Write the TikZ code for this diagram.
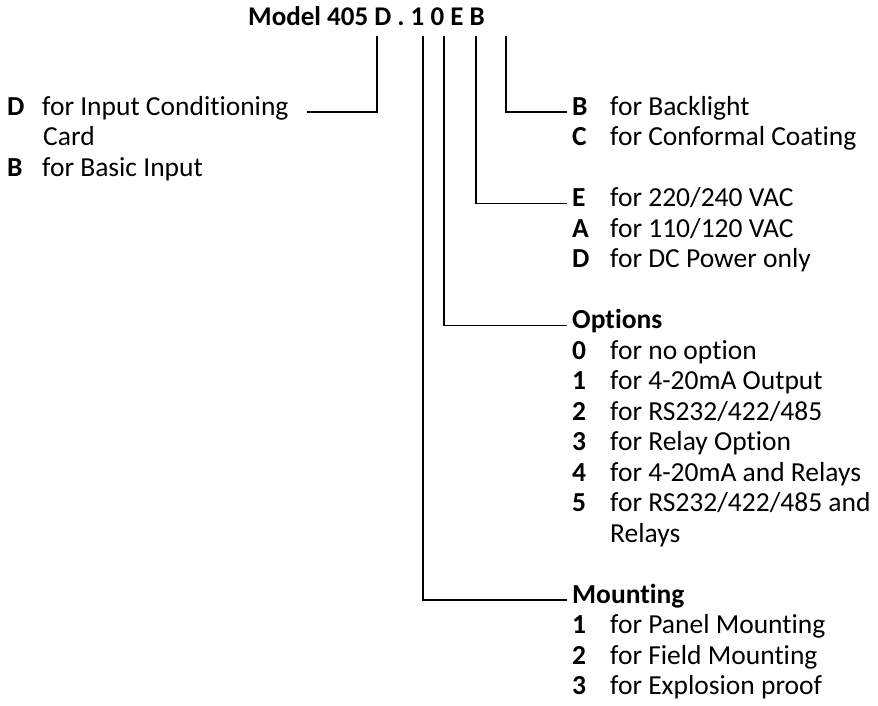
\documentclass[tikz,border=0pt]{standalone}
\usepackage{fontspec}
\setmainfont{Carlito}[Ligatures=NoCommon]
\newcommand{\bodysize}{\fontsize{27.5}{30.5}\selectfont}
\newcommand{\rowsep}{30.5}
\tikzset{
  title/.style={anchor=base west, inner sep=0pt, font=\fontsize{27}{32}\selectfont\bfseries},
  code/.style ={anchor=base west, inner sep=0pt, font=\bodysize\bfseries},
  desc/.style ={anchor=base west, inner sep=0pt, font=\bodysize},
  link/.style ={line width=1.6pt, line cap=rect},
}

\begin{document}
\begin{tikzpicture}[x=1pt, y=-1pt]
\useasboundingbox (0,0) rectangle (878,705);
\node[title] (model) at (248,25) {Model 405 D . 1 0 E B};
% tops of the code lines
\coordinate (tD) at (377,37);
\coordinate (tM) at (423,37);
\coordinate (tO) at (444,37);
\coordinate (tP) at (476,37);
\coordinate (tL) at (506,37);
% input card
\node[code] (cD) at (7,115) {D};
\node[desc] (dD) at (42,115) {for Input Conditioning};
\node[desc] (dD2) at (43,{115+\rowsep}) {Card};
\node[code] (cB) at (7,{115+2*\rowsep}) {B};
\node[desc] (dB) at (42,{115+2*\rowsep}) {for Basic Input};
\coordinate (eD) at (308,112);
% backlight
\node[code] (lB) at (572,115) {B};
\node[desc] (lBd) at (610,115) {for Backlight};
\node[code] (lC) at (572,{115+\rowsep}) {C};
\node[desc] (lCd) at (610,{115+\rowsep}) {for Conformal Coating};
\coordinate (eL) at (566,112);
% power
\node[code] (pE) at (572,{115+3*\rowsep}) {E};
\node[desc] (pEd) at (610,{115+3*\rowsep}) {for 220/240 VAC};
\node[code] (pA) at (572,{115+4*\rowsep}) {A};
\node[desc] (pAd) at (610,{115+4*\rowsep}) {for 110/120 VAC};
\node[code] (pD) at (572,{115+5*\rowsep}) {D};
\node[desc] (pDd) at (610,{115+5*\rowsep}) {for DC Power only};
\coordinate (eP) at (566,{112+3*\rowsep});
% options
\node[code] (oH) at (572,{115+7*\rowsep}) {Options};
\node[code] (o0) at (572,{115+8*\rowsep}) {0};
\node[desc] (o0d) at (610,{115+8*\rowsep}) {for no option};
\node[code] (o1) at (572,{115+9*\rowsep}) {1};
\node[desc] (o1d) at (610,{115+9*\rowsep}) {for 4-20mA Output};
\node[code] (o2) at (572,{115+10*\rowsep}) {2};
\node[desc] (o2d) at (610,{115+10*\rowsep}) {for RS232/422/485};
\node[code] (o3) at (572,{115+11*\rowsep}) {3};
\node[desc] (o3d) at (610,{115+11*\rowsep}) {for Relay Option};
\node[code] (o4) at (572,{115+12*\rowsep}) {4};
\node[desc] (o4d) at (610,{115+12*\rowsep}) {for 4-20mA and Relays};
\node[code] (o5) at (572,{115+13*\rowsep}) {5};
\node[desc] (o5d) at (610,{115+13*\rowsep}) {for RS232/422/485 and};
\node[desc] (o5d2) at (610,{115+14*\rowsep}) {Relays};
\coordinate (eO) at (566,{112+7*\rowsep});
% mounting
\node[code] (mH) at (572,{115+16*\rowsep}) {Mounting};
\node[code] (m1) at (572,{115+17*\rowsep}) {1};
\node[desc] (m1d) at (610,{115+17*\rowsep}) {for Panel Mounting};
\node[code] (m2) at (572,{115+18*\rowsep}) {2};
\node[desc] (m2d) at (610,{115+18*\rowsep}) {for Field Mounting};
\node[code] (m3) at (572,{115+19*\rowsep}) {3};
\node[desc] (m3d) at (610,{115+19*\rowsep}) {for Explosion proof};
\coordinate (eM) at (566,{112+16*\rowsep});
\foreach \t/\e in {tD/eD,tM/eM,tO/eO,tP/eP,tL/eL} \draw[link] (\t) |- (\e);
\end{tikzpicture}
\end{document}
